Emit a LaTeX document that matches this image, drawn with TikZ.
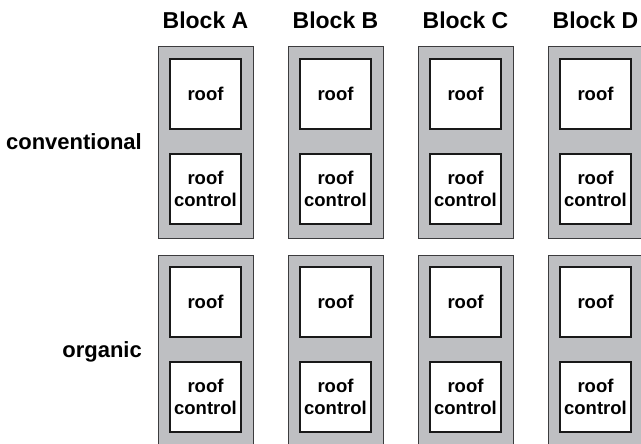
\documentclass[tikz,border=0pt]{standalone}
\usepackage{fontspec}
\setmainfont{Liberation Sans}
\definecolor{blockgray}{RGB}{190,191,194}
\definecolor{edgegray}{RGB}{60,60,62}
\tikzset{
  x=1pt, y=-1pt,
  column/.style={draw=edgegray, line width=1pt, fill=blockgray, rectangle, minimum width=95pt, minimum height=191pt, inner sep=0pt},
  unit/.style={draw=black!90, line width=2.2pt, fill=white, rectangle, minimum width=71pt, minimum height=70pt, inner sep=0pt, align=center, font=\fontsize{18.5}{21.5}\selectfont\bfseries},
  title/.style={font=\fontsize{23}{27}\selectfont\bfseries, inner sep=0pt},
  rowlabel/.style={font=\fontsize{22}{26}\selectfont\bfseries, inner sep=0pt, anchor=east}
}
\begin{document}
\begin{tikzpicture}
\useasboundingbox (0,0) rectangle (641,444);
\clip (0,0) rectangle (641,444);
\foreach \L [count=\i from 0] in {A,B,C,D} {
  \pgfmathsetmacro{\cx}{205.5+130*\i}
  \node[title] (title\L) at (\cx,20) {Block \L};
  \node[column] (colu\L) at (\cx,142.5) {};
  \node[unit] (roofu\L) at (\cx,94) {roof};
  \node[unit] (ctrlu\L) at (\cx,189) {roof\\control};
  \node[column] (cold\L) at (\cx,350.5) {};
  \node[unit] (roofd\L) at (\cx,302) {roof};
  \node[unit] (ctrld\L) at (\cx,397) {roof\\control};
}
\node[rowlabel] (conv) at (142,142) {conventional};
\node[rowlabel] (org) at (142,352) {organic};
\end{tikzpicture}
\end{document}
